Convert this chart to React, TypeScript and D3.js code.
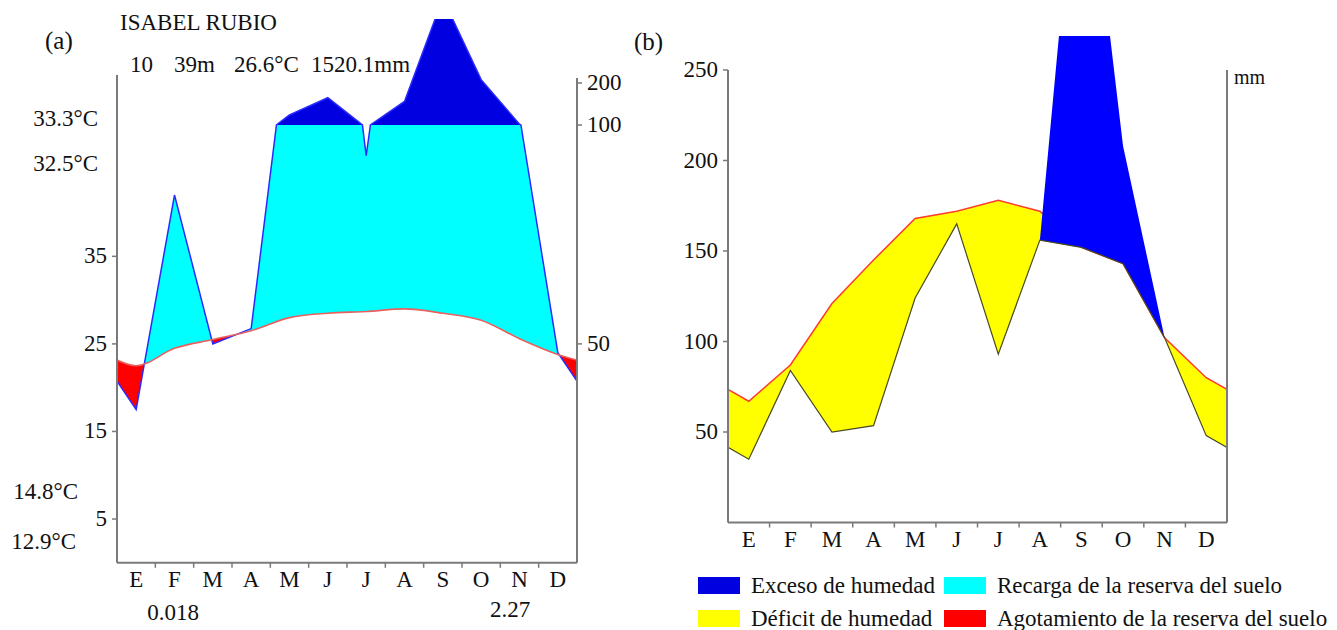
import React from 'react';
import * as d3 from 'd3';

// months (Spanish initials)
const months = ['E', 'F', 'M', 'A', 'M', 'J', 'J', 'A', 'S', 'O', 'N', 'D'];
// (a) mean monthly temperature, °C
const temperature = [22.5, 24.5, 25.5, 26.5, 28.0, 28.5, 28.7, 29.0, 28.5, 27.7, 25.6, 23.8];
// monthly precipitation, mm
const precipitation = [35, 84, 50, 53.5, 124, 165, 93, 156, 402, 208, 102, 48];
// (b) potential evapotranspiration, mm
const etp = [67, 87, 121, 145, 168, 172, 178, 172, 152, 143, 102, 80];
// (b) real evapotranspiration, mm
const etr = [35, 84, 50, 53.5, 124, 165, 93, 156, 152, 143, 102, 48];

const tempTicks = [5, 15, 25, 35];
const precTicks = [50, 100, 200];
const mmTicks = [50, 100, 150, 200, 250];

const legendItems = [
  { label: 'Exceso de humedad', color: '#0000e0' },
  { label: 'Recarga de la reserva del suelo', color: '#00ffff' },
  { label: 'Déficit de humedad', color: '#ffff00' },
  { label: 'Agotamiento de la reserva del suelo', color: '#ff0000' },
];

const FONT = '"Liberation Serif", "Times New Roman", serif';

// monthly points plus wrap-around values at both edges of the year
const withEdges = (arr) => {
  const edge = (arr[0] + arr[arr.length - 1]) / 2;
  return [{ m: 0, v: edge }, ...arr.map((v, i) => ({ m: i + 0.5, v })), { m: 12, v: edge }];
};

// add the points where a straight segment crosses `level`
const splitAt = (pts, level) => {
  const out = [];
  pts.forEach((a, i) => {
    out.push(a);
    const b = pts[i + 1];
    if (b && (a.v - level) * (b.v - level) < 0) {
      const t = (level - a.v) / (b.v - a.v);
      out.push({ m: a.m + t * (b.m - a.m), v: level });
    }
  });
  return out;
};

const App = () => {
  // ---------- panel (a) ----------
  const xA = d3.scaleLinear().domain([0, 12]).range([117, 577]);
  const yT = d3.scaleLinear().domain([0, 50]).range([562.8, 125]);
  const yHi = d3.scaleLinear().domain([100, 200]).range([yT(50), yT(50) - 42]);
  const yP = (v) => (v <= 100 ? yT(v / 2) : yHi(v));
  const y100 = yP(100);
  const bottomA = yT(0);

  const tPts = withEdges(temperature);
  const pPts = splitAt(withEdges(precipitation), 100);

  const tArea = (y0) =>
    d3.area().curve(d3.curveMonotoneX).x((d) => xA(d.m)).y0(y0).y1((d) => yT(d.v))(tPts);
  const tLine = d3.line().curve(d3.curveMonotoneX).x((d) => xA(d.m)).y((d) => yT(d.v))(tPts);

  const cyanPath = d3.area().x((d) => xA(d.m)).y0(bottomA + 40).y1((d) => Math.max(yP(d.v), y100))(pPts);
  const redPath = d3.area().x((d) => xA(d.m)).y0((d) => yP(d.v)).y1(0)(pPts);
  const bluePath = d3.area().x((d) => xA(d.m)).y0(y100).y1((d) => Math.min(yP(d.v), y100))(pPts);
  const pLine = d3.line().x((d) => xA(d.m)).y((d) => yP(d.v))(pPts);

  // ---------- panel (b) ----------
  const xB = d3.scaleLinear().domain([0, 12]).range([728, 1227]);
  const yB = d3.scaleLinear().domain([0, 250]).range([522.5, 70]);
  const bottomB = yB(0);

  const etpPts = withEdges(etp);
  const etrPts = withEdges(etr);
  const prPts = withEdges(precipitation);

  const yellowPath = d3.area().x((d) => xB(d.m)).y0((d, i) => yB(etrPts[i].v)).y1((d) => yB(d.v))(etpPts);
  const excessPath = d3.area().x((d) => xB(d.m)).y0((d, i) => yB(etrPts[i].v)).y1((d) => yB(d.v))(prPts);
  const etpLine = d3.line().x((d) => xB(d.m)).y((d) => yB(d.v))(etpPts);
  const etrLine = d3.line().x((d) => xB(d.m)).y((d) => yB(d.v))(etrPts);

  const axisColor = '#7a7a7a';
  const txt = { fontFamily: FONT, fontSize: 23, fill: '#111' };

  return (
    <svg width={1337} height={630} style={{ position: 'absolute', left: 0, top: 0, background: '#fff' }}>
      <defs>
        <clipPath id="a-plot"><rect x={xA(0)} y={19} width={xA(12) - xA(0)} height={bottomA - 19} /></clipPath>
        <clipPath id="a-above"><path d={tArea(0)} /></clipPath>
        <clipPath id="a-below"><path d={tArea(bottomA + 40)} /></clipPath>
        <clipPath id="b-plot"><rect x={xB(0)} y={36} width={xB(12) - xB(0)} height={bottomB - 36} /></clipPath>
      </defs>

      {/* panel (a) */}
      <g clipPath="url(#a-plot)">
        <path d={cyanPath} fill="#00ffff" clipPath="url(#a-above)" />
        <path d={redPath} fill="#ff0000" clipPath="url(#a-below)" />
        <path d={bluePath} fill="#0000e0" />
        <path d={pLine} fill="none" stroke="#2a2aff" strokeWidth={1.5} />
        <path d={tLine} fill="none" stroke="#e86060" strokeWidth={1.6} />
      </g>

      <line x1={xA(0)} x2={xA(0)} y1={75} y2={bottomA} stroke={axisColor} strokeWidth={2} />
      <line x1={xA(12)} x2={xA(12)} y1={78} y2={bottomA} stroke={axisColor} strokeWidth={2} />
      <line x1={xA(0)} x2={xA(12)} y1={bottomA} y2={bottomA} stroke={axisColor} strokeWidth={2} />
      {d3.range(1, 12).map((i) => (
        <line key={'ta' + i} x1={xA(i)} x2={xA(i)} y1={bottomA} y2={bottomA + 5} stroke={axisColor} strokeWidth={1.5} />
      ))}
      {tempTicks.map((t) => (
        <g key={'lt' + t}>
          <line x1={xA(0) - 5} x2={xA(0)} y1={yT(t)} y2={yT(t)} stroke={axisColor} strokeWidth={1.5} />
          <text x={xA(0) - 10} y={yT(t) + 7} textAnchor="end" {...txt}>{t}</text>
        </g>
      ))}
      {precTicks.map((p) => (
        <g key={'rt' + p}>
          <line x1={xA(12)} x2={xA(12) + 5} y1={yP(p)} y2={yP(p)} stroke={axisColor} strokeWidth={1.5} />
          <text x={xA(12) + 10} y={yP(p) + 7} {...txt}>{p}</text>
        </g>
      ))}
      {months.map((m, i) => (
        <text key={'ma' + i} x={xA(i + 0.5)} y={587} textAnchor="middle" {...txt}>{m}</text>
      ))}

      <text x={45} y={49} {...txt} fontSize={25}>(a)</text>
      <text x={120} y={30} {...txt}>ISABEL RUBIO</text>
      <text x={130} y={72} {...txt}>10</text>
      <text x={174} y={72} {...txt}>39m</text>
      <text x={234} y={72} {...txt}>26.6°C</text>
      <text x={311} y={72} {...txt}>1520.1mm</text>
      <text x={98} y={126} textAnchor="end" {...txt}>33.3°C</text>
      <text x={98} y={171} textAnchor="end" {...txt}>32.5°C</text>
      <text x={78} y={499} textAnchor="end" {...txt}>14.8°C</text>
      <text x={76} y={549} textAnchor="end" {...txt}>12.9°C</text>
      <text x={173} y={620} textAnchor="middle" {...txt}>0.018</text>
      <text x={510} y={617} textAnchor="middle" {...txt}>2.27</text>

      {/* panel (b) */}
      <g clipPath="url(#b-plot)">
        <path d={yellowPath} fill="#ffff00" />
        <path d={etpLine} fill="none" stroke="#ff3b2f" strokeWidth={1.5} />
        <path d={excessPath} fill="#0000ff" />
        <path d={etrLine} fill="none" stroke="#4a4a20" strokeWidth={1.2} />
      </g>

      <line x1={xB(0)} x2={xB(0)} y1={70} y2={bottomB} stroke={axisColor} strokeWidth={2} />
      <line x1={xB(12)} x2={xB(12)} y1={70} y2={bottomB} stroke={axisColor} strokeWidth={2} />
      <line x1={xB(0)} x2={xB(12)} y1={bottomB} y2={bottomB} stroke={axisColor} strokeWidth={2} />
      {d3.range(1, 12).map((i) => (
        <line key={'tb' + i} x1={xB(i)} x2={xB(i)} y1={bottomB} y2={bottomB + 5} stroke={axisColor} strokeWidth={1.5} />
      ))}
      {mmTicks.map((v) => (
        <g key={'bt' + v}>
          <line x1={xB(0) - 5} x2={xB(0)} y1={yB(v)} y2={yB(v)} stroke={axisColor} strokeWidth={1.5} />
          <text x={xB(0) - 10} y={yB(v) + 7} textAnchor="end" {...txt}>{v}</text>
        </g>
      ))}
      {months.map((m, i) => (
        <text key={'mb' + i} x={xB(i + 0.5)} y={547} textAnchor="middle" {...txt}>{m}</text>
      ))}
      <text x={634} y={50} {...txt} fontSize={25}>(b)</text>
      <text x={1234} y={84} {...txt} fontSize={20}>mm</text>

      {/* legend */}
      {legendItems.map((d, i) => {
        const col = i % 2;
        const row = Math.floor(i / 2);
        const sx = col === 0 ? 698 : 944;
        const sy = row === 0 ? 577 : 610;
        return (
          <g key={'lg' + i}>
            <rect x={sx} y={sy} width={42} height={17} fill={d.color} />
            <text x={sx + 53} y={sy + 16} {...txt}>{d.label}</text>
          </g>
        );
      })}
    </svg>
  );
};

export default App;
